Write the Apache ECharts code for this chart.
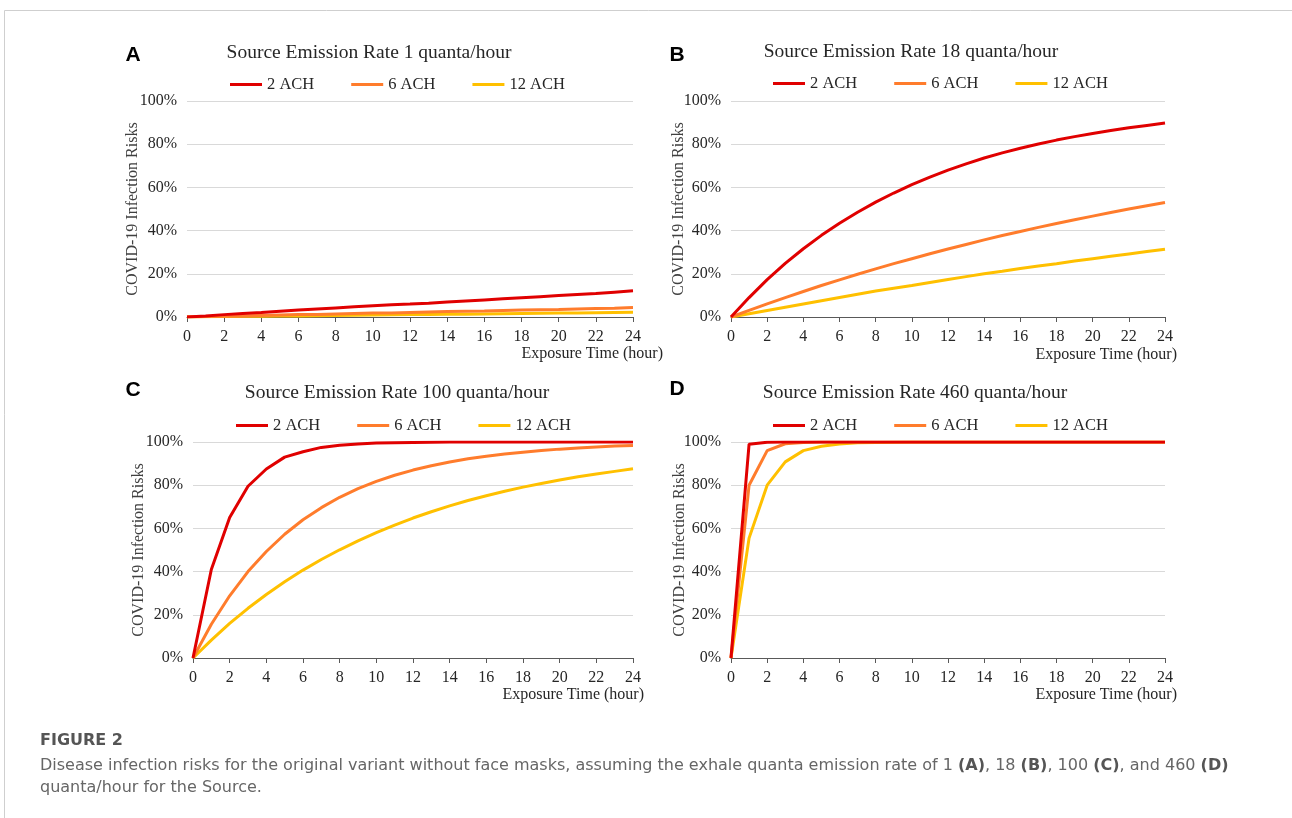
<!DOCTYPE html>
<html>
<head>
<meta charset="utf-8">
<script src="https://cdn.jsdelivr.net/npm/echarts@6/dist/echarts.min.js"></script>
<style>
html,body{margin:0;padding:0;background:#fff;}
#chart{width:1292px;height:818px;}
</style>
</head>
<body>
<div id="chart"></div>
<script>
// ---- Data ----
const hours = [0,1,2,3,4,5,6,7,8,9,10,11,12,13,14,15,16,17,18,19,20,21,22,23,24];
const seriesNames = ['2 ACH','6 ACH','12 ACH'];
const yTickLabels = ['0%','20%','40%','60%','80%','100%'];
const panelLetters = ['A','B','C','D'];
const panelTitles = [
  'Source Emission Rate 1 quanta/hour',
  'Source Emission Rate 18 quanta/hour',
  'Source Emission Rate 100 quanta/hour',
  'Source Emission Rate 460 quanta/hour'
];
// Panel A: 1 quanta/hour (risk, %)
const a_2ach  = [0,0.5,1.1,1.6,2.1,2.7,3.2,3.7,4.2,4.7,5.2,5.7,6.0,6.4,6.9,7.4,7.9,8.4,8.9,9.4,9.9,10.4,10.9,11.5,12.1];
const a_6ach  = [0,0.2,0.4,0.5,0.7,0.9,1.1,1.2,1.4,1.6,1.8,1.9,2.1,2.3,2.5,2.7,2.8,3.0,3.2,3.4,3.5,3.7,3.9,4.1,4.4];
const a_12ach = [0,0.1,0.2,0.3,0.4,0.5,0.5,0.6,0.7,0.8,0.9,1.0,1.1,1.2,1.3,1.3,1.4,1.5,1.6,1.7,1.8,1.9,2.0,2.1,2.2];
// Panel B: 18 quanta/hour
const b_2ach  = [0,9.0,17.3,24.8,31.6,37.8,43.4,48.5,53.2,57.4,61.3,64.8,68.0,70.9,73.6,76.0,78.1,80.1,81.9,83.5,85.0,86.3,87.6,88.7,89.8];
const b_6ach  = [0,3.1,6.1,9.0,11.8,14.6,17.2,19.8,22.3,24.7,27.0,29.3,31.5,33.6,35.7,37.7,39.6,41.5,43.3,45.0,46.7,48.4,50.0,51.5,53.0];
const b_12ach = [0,1.5,3.0,4.5,6.0,7.5,9.0,10.5,12.0,13.3,14.6,16.0,17.4,18.7,20.0,21.2,22.5,23.6,24.7,25.9,27.0,28.1,29.2,30.3,31.4];
// Panel C: 100 quanta/hour
const c_2ach  = [0,41.0,65.0,79.5,87.5,93.0,95.5,97.5,98.5,99.1,99.5,99.7,99.8,99.9,100,100,100,100,100,100,100,100,100,100,100];
const c_6ach  = [0,15.6,28.8,40.0,49.3,57.3,64.0,69.6,74.4,78.4,81.8,84.6,87.0,89.0,90.7,92.2,93.4,94.4,95.3,96.1,96.7,97.2,97.7,98.1,98.4];
const c_12ach = [0,8.3,16.0,23.0,29.4,35.3,40.7,45.6,50.1,54.2,58.0,61.5,64.8,67.7,70.4,72.9,75.1,77.2,79.1,80.8,82.4,83.9,85.2,86.4,87.6];
// Panel D: 460 quanta/hour
const d_2ach  = [0,99.0,99.9,100,100,100,100,100,100,100,100,100,100,100,100,100,100,100,100,100,100,100,100,100,100];
const d_6ach  = [0,80.0,96.0,99.2,99.8,100,100,100,100,100,100,100,100,100,100,100,100,100,100,100,100,100,100,100,100];
const d_12ach = [0,55.5,80.0,90.8,96.0,98.0,99.1,99.6,99.8,99.9,100,100,100,100,100,100,100,100,100,100,100,100,100,100,100];

const panelData = [
  [a_2ach, a_6ach, a_12ach],
  [b_2ach, b_6ach, b_12ach],
  [c_2ach, c_6ach, c_12ach],
  [d_2ach, d_6ach, d_12ach]
];

// ---- Layout / styles ----
const colors = ['#E00000','#FF7C2C','#FFC000'];
const serif = 'Liberation Serif';
const grids = [
  {left:187, right:659, top:101, bottom:501},
  {left:731, right:127, top:101, bottom:501},
  {left:193, right:659, top:442, bottom:160},
  {left:731, right:127, top:442, bottom:160}
];
const titlePos = [[369,53],[911,52],[397,393],[915,393]];
const letterPos = [[133,55],[677,55],[133,390],[677,389]];
const yNamePos = [[133,209],[679,209],[139,550],[680,550]];
const xNamePos = [[663,354],[1177,355],[644,695],[1177,695]];
const legendPos = [[230,83],[773,82],[236,424],[773,424]];

const chart = echarts.init(document.getElementById('chart'), null, {renderer:'canvas'});

const option = {
  animation:false,
  backgroundColor:'#fff',
  grid: grids.map(g => Object.assign({containLabel:false}, g)),
  xAxis: grids.map((g,i) => ({
    type:'value', gridIndex:i, min:0, max:24, interval:2,
    axisLine:{show:true, lineStyle:{color:'#595959', width:1}},
    axisTick:{show:true, length:5, lineStyle:{color:'#595959'}},
    axisLabel:{fontFamily:serif, fontSize:16, color:'#262626', margin:12},
    splitLine:{show:false}
  })),
  yAxis: grids.map((g,i) => ({
    type:'value', gridIndex:i, min:0, max:100, interval:20,
    axisLine:{show:false}, axisTick:{show:false},
    axisLabel:{fontFamily:serif, fontSize:16, color:'#262626', margin:10,
      formatter: v => yTickLabels[Math.round(v/20)]},
    splitLine:{show:true, lineStyle:{color:'#d9d9d9', width:1}}
  })),
  legend: legendPos.map(p => ({
    data: seriesNames, left:p[0], top:p[1]-7, itemGap:37, padding:0,
    icon:'rect', itemWidth:32, itemHeight:3,
    textStyle:{fontFamily:serif, fontSize:16.5, color:'#262626'},
    selectedMode:false
  })),
  series: [],
  graphic: []
};

panelData.forEach((arrs, pi) => {
  arrs.forEach((arr, si) => {
    option.series.push({
      type:'line', name:seriesNames[si], xAxisIndex:pi, yAxisIndex:pi,
      data: hours.map((h,k) => [h, arr[k]]),
      symbol:'none', smooth:false,
      lineStyle:{color:colors[si], width:3},
      itemStyle:{color:colors[si]},
      z: 10 - si
    });
  });
});

const g = option.graphic;
// frame
g.push({type:'polyline', shape:{points:[[4.5,818],[4.5,10.5],[1292,10.5]]},
  style:{stroke:'#cfcfcf', lineWidth:1, fill:null}, silent:true});
panelTitles.forEach((t,i) => {
  g.push({type:'text', x:titlePos[i][0], y:titlePos[i][1],
    style:{text:t, font:'19.5px "Liberation Serif"', fill:'#262626', align:'center', verticalAlign:'middle'}});
  g.push({type:'text', x:letterPos[i][0], y:letterPos[i][1],
    style:{text:panelLetters[i], font:'bold 21px "Liberation Sans"', fill:'#000', align:'center', verticalAlign:'middle'}});
  g.push({type:'text', x:yNamePos[i][0], y:yNamePos[i][1], rotation:Math.PI/2,
    style:{text:'COVID-19 Infection Risks', font:'16px "Liberation Serif"', fill:'#404040', align:'center', verticalAlign:'middle'}});
  g.push({type:'text', x:xNamePos[i][0], y:xNamePos[i][1],
    style:{text:'Exposure Time (hour)', font:'16px "Liberation Serif"', fill:'#262626', align:'right', verticalAlign:'middle'}});
});
// caption
const capFont = '"DejaVu Sans"';
g.push({type:'text', x:40, y:741,
  style:{text:'FIGURE 2', font:'bold 16px ' + capFont, fill:'#555', verticalAlign:'middle'}});
g.push({type:'text', x:40, y:766,
  style:{text:'Disease infection risks for the original variant without face masks, assuming the exhale quanta emission rate of 1 {b|(A)}, 18 {b|(B)}, 100 {b|(C)}, and 460 {b|(D)}',
    font:'16px ' + capFont, fill:'#666', verticalAlign:'middle',
    rich:{b:{fontWeight:'bold', fontFamily:'DejaVu Sans', fontSize:16, fill:'#555'}}}});
g.push({type:'text', x:40, y:788,
  style:{text:'quanta/hour for the Source.', font:'16px ' + capFont, fill:'#666', verticalAlign:'middle'}});

chart.setOption(option);
</script>
</body>
</html>
